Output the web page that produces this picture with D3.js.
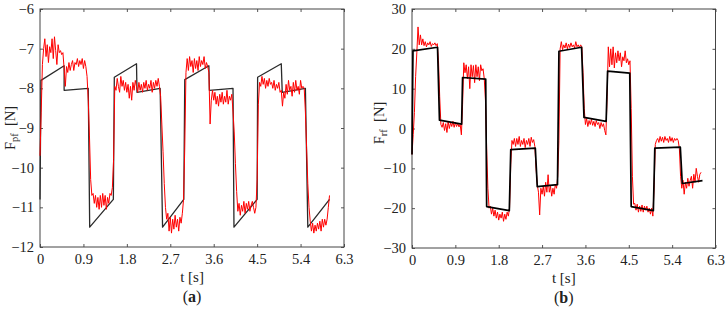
<!DOCTYPE html>
<html>
<head>
<meta charset="utf-8">
<script src="https://cdn.jsdelivr.net/npm/d3@7"></script>
<style>
  body { margin: 0; background: #fff; }
  svg { display: block; }
  text { font-family: "Liberation Serif", "Times New Roman", serif; fill: #222; }
</style>
</head>
<body>
<div id="chart"></div>
<script>
// sampling of the measured (red) signals
const DT = 0.025;

const xTicks = [0, 0.9, 1.8, 2.7, 3.6, 4.5, 5.4, 6.3];
const xTickLabels = ["0", "0.9", "1.8", "2.7", "3.6", "4.5", "5.4", "6.3"];
const yTicksA = [-12, -11, -10, -9, -8, -7, -6];
const yTicksB = [-30, -20, -10, 0, 10, 20, 30];

// panel (a): reference force F_pf [t, N]
const refA = [
  [0, -10.8], [0.02, -7.8], [0.5, -7.43], [0.5, -8.05], [1.0, -8.0], [1.03, -11.5],
  [1.52, -10.8], [1.54, -7.72], [2.0, -7.38], [2.01, -8.1], [2.49, -8.0], [2.54, -11.5],
  [2.98, -10.8], [3.0, -7.78], [3.5, -7.43], [3.51, -8.05], [4.0, -8.0], [4.02, -11.5],
  [4.5, -10.8], [4.51, -7.72], [5.0, -7.38], [5.02, -8.1], [5.5, -8.0], [5.55, -11.5],
  [6.0, -10.8]
];

// panel (a): measured F_pf, one value every DT
const measA = [
  -9.7, -8.6, -7.4, -7.0, -6.75, -7.2, -6.9, -7.35, -6.95, -7.1,
  -6.75, -7.25, -6.7, -7.05, -7.4, -6.9, -7.1, -7.05, -7.15, -7.1,
  -7.5, -7.95, -7.45, -7.6, -7.35, -7.55, -7.4, -7.3, -7.55, -7.35,
  -7.4, -7.25, -7.45, -7.3, -7.4, -7.25, -7.5, -7.3, -7.45, -7.7,
  -8.3, -9.2, -10.3, -10.7, -10.65, -10.9, -10.7, -11.0, -10.75, -11.05,
  -10.7, -11.0, -10.65, -10.95, -10.7, -11.05, -10.75, -10.9, -10.65, -10.7,
  -10.5, -9.8, -7.95, -8.05, -7.75, -7.95, -8.1, -7.7, -7.95, -7.8,
  -8.05, -7.85, -8.1, -7.9, -8.25, -7.95, -8.3, -7.85, -8.05, -7.8,
  -7.95, -8.1, -7.85, -8.05, -7.9, -8.1, -7.85, -8.0, -7.8, -8.05,
  -7.9, -8.0, -7.8, -8.1, -7.85, -8.0, -7.8, -7.95, -7.75, -7.95,
  -8.2, -8.9, -9.6, -10.4, -11.0, -11.3, -11.15, -11.6, -11.25, -11.65,
  -11.3, -11.55, -11.2, -11.5, -11.3, -11.6, -11.25, -11.4, -11.15, -10.8,
  -9.5, -7.6, -7.25, -7.55, -7.2, -7.45, -7.3, -7.6, -7.25, -7.5,
  -7.3, -7.55, -7.2, -7.45, -7.3, -7.4, -7.2, -7.5, -7.35, -7.45,
  -7.6, -8.9, -8.3, -8.05, -8.3, -8.1, -8.4, -8.2, -8.45, -8.15,
  -8.35, -8.1, -8.4, -8.2, -8.35, -8.05, -8.4, -8.2, -8.3, -8.15,
  -8.6, -9.1, -9.9, -10.6, -11.1, -10.9, -11.2, -10.95, -11.1, -10.85,
  -11.15, -10.9, -11.05, -10.85, -11.1, -10.95, -10.85, -11.0, -11.15, -11.0,
  -10.3, -8.4, -7.85, -7.95, -7.7, -7.9, -7.75, -8.0, -7.8, -7.95,
  -7.75, -7.9, -7.85, -8.0, -7.8, -8.05, -7.9, -8.0, -7.85, -8.1,
  -8.05, -8.45, -8.1, -8.25, -7.9, -8.15, -7.8, -8.05, -7.95, -8.2,
  -7.85, -8.1, -7.8, -8.05, -7.95, -8.15, -7.8, -8.0, -7.95, -8.0,
  -8.6, -9.5, -10.4, -11.0, -11.35, -11.6, -11.4, -11.65, -11.45, -11.6,
  -11.4, -11.55, -11.35, -11.6, -11.3, -11.5, -11.3, -11.45, -11.3, -11.0,
  -10.7
];

// panel (b): reference force F_rf [t, N]
const refB = [
  [0, -6.5], [0.02, 19.5], [0.53, 20.4], [0.57, 2.1], [1.03, 1.1], [1.05, 12.8],
  [1.53, 12.4], [1.55, -19.6], [2.02, -20.6], [2.05, -5.3], [2.56, -4.95], [2.6, -14.6],
  [3.02, -14.1], [3.05, 19.4], [3.52, 20.4], [3.57, 2.8], [4.03, 1.8], [4.06, 14.4],
  [4.52, 13.9], [4.55, -19.6], [5.01, -20.6], [5.04, -4.95], [5.57, -4.7], [5.61, -13.8],
  [6.03, -13.1]
];

// panel (b): measured F_rf, one value every DT
const measB = [
  -6.5, -1.5, 4, 13, 19, 25.5, 21, 23.5, 21, 22.5,
  20.8, 21.8, 20.5, 21.5, 21, 21.8, 20.6, 21.3, 21, 21.5,
  20.8, 21.3, 17, 8, 1, 0.3, 1.5, -0.5, 1.2, -1,
  1.8, 0, 1.5, 0.5, 1.8, 0.3, 1.5, 0.5, 1.3, 0.4,
  1.0, -1.6, 6, 16.5, 14, 16, 12.5, 15.5, 10, 16,
  13, 15.8, 11.5, 16, 13, 15.5, 12, 16, 14.5, 15,
  12.5, 7, -5, -15, -20, -19.5, -21.5, -20, -22, -20.5,
  -22.5, -21, -23, -21.5, -22.5, -21, -23.3, -21.5, -22.8, -21,
  -22, -20, -9, -3, -4, -2.5, -4.5, -2.5, -4, -2,
  -4.5, -3, -4, -2.5, -4.8, -3, -4, -2.5, -4.5, -2.2,
  -3.5, -2.8, -4.5, -10, -14, -16, -21.7, -15, -16.5, -14.5,
  -17, -13.5, -16, -11.6, -16, -14.5, -17, -15, -16.5, -14,
  -15, -12, -3, 20, 21.8, 19.8, 21, 20.2, 21.5, 20,
  21.2, 20.3, 21.5, 20.5, 21, 20.2, 21.8, 20.5, 21, 20.3,
  21, 20.5, 14, 5, 1, 2.5, 0.5, 2, 1, 2.3,
  0.8, 1.8, 0.5, 2, 1, 1.5, 0, 1.5, 0.5, 1.2,
  -0.5, -1.6, 8, 20.5, 15.5, 20, 16, 20.5, 15.2, 19,
  16.5, 19.5, 17, 19, 15.5, 18, 17, 19.5, 16.5, 17.5,
  16, 17, 5, -12, -19, -18.8, -20.5, -19, -21, -19.5,
  -20.8, -19.2, -21, -19.5, -20.5, -19.5, -21, -20, -21.5, -20,
  -22, -15, -4, -3, -2.5, -3.5, -2, -3.2, -2.2, -3.5,
  -2, -3, -2.5, -3.5, -2, -3.2, -2.3, -3.5, -2.5, -3,
  -2.5, -3, -5, -12, -15, -13, -16.5, -13.5, -15, -12.5,
  -14.5, -13, -12, -15, -11.5, -13.5, -10, -12, -13.5, -11.5,
  -11
];

const svg = d3.select("#chart").append("svg")
  .attr("width", 726)
  .attr("height", 311);

function drawPanel(cfg) {
  const g = svg.append("g")
    .attr("transform", "translate(" + cfg.left + "," + cfg.top + ")");

  const x = d3.scaleLinear().domain([0, 6.3]).range([0, cfg.width]);
  const y = d3.scaleLinear().domain(cfg.yDomain).range([cfg.height, 0]);

  const tickFmtX = (d, i) => xTickLabels[i];

  // axes with inward ticks
  g.append("g")
    .attr("class", "axis")
    .attr("transform", "translate(0," + cfg.height + ")")
    .call(d3.axisBottom(x).tickValues(xTicks).tickSize(-3).tickPadding(7).tickFormat(tickFmtX));
  g.append("g")
    .attr("class", "axis")
    .call(d3.axisTop(x).tickValues(xTicks).tickSize(-3).tickFormat(""));
  g.append("g")
    .attr("class", "axis")
    .call(d3.axisLeft(y).tickValues(cfg.yTicks).tickSize(-3).tickPadding(6).tickFormat(d3.format("d")));
  g.append("g")
    .attr("class", "axis")
    .attr("transform", "translate(" + cfg.width + ",0)")
    .call(d3.axisRight(y).tickValues(cfg.yTicks).tickSize(-3).tickFormat(""));

  g.selectAll(".axis .domain").remove();
  g.selectAll(".axis line").attr("stroke", "#555");
  g.selectAll(".axis text")
    .style("font-family", "'Liberation Serif', serif")
    .style("font-size", "14.5px")
    .attr("fill", "#222");

  g.append("rect")
    .attr("width", cfg.width)
    .attr("height", cfg.height)
    .attr("fill", "none")
    .attr("stroke", "#444")
    .attr("stroke-width", 1);

  const refLine = d3.line()
    .x(d => x(d[0]))
    .y(d => y(d[1]));
  const measLine = d3.line()
    .x((d, i) => x(i * DT))
    .y(d => y(d));

  const drawRef = () => g.append("path")
    .datum(cfg.ref)
    .attr("d", refLine)
    .attr("fill", "none")
    .attr("stroke", cfg.refColor)
    .attr("stroke-width", cfg.refWidth)
    .attr("stroke-linejoin", "round");
  const drawMeas = () => g.append("path")
    .datum(cfg.meas)
    .attr("d", measLine)
    .attr("fill", "none")
    .attr("stroke", "#ff0000")
    .attr("stroke-width", 1)
    .attr("stroke-linejoin", "round");

  if (cfg.refOnTop) { drawMeas(); drawRef(); }
  else { drawRef(); drawMeas(); }

  // y label, rotated
  const yl = g.append("text")
    .attr("transform", "translate(" + cfg.yLabelX + "," + cfg.yLabelY + ") rotate(-90)")
    .attr("text-anchor", "middle")
    .style("font-size", "14.5px");
  yl.append("tspan").text("F");
  yl.append("tspan").attr("dy", 3).style("font-size", "10.5px").text(cfg.sub);
  yl.append("tspan").attr("dy", -3).text("\u00a0\u00a0[N]");

  g.append("text")
    .attr("x", cfg.width / 2)
    .attr("y", cfg.height + 35)
    .attr("text-anchor", "middle")
    .style("font-size", "15px")
    .text("t [s]");

  const cap = g.append("text")
    .attr("x", cfg.width / 2)
    .attr("y", cfg.height + 55)
    .attr("text-anchor", "middle")
    .style("font-size", "16px");
  cap.append("tspan").text("(");
  cap.append("tspan").style("font-weight", "bold").text(cfg.tag);
  cap.append("tspan").text(")");
}

drawPanel({
  left: 40, top: 9, width: 304, height: 238,
  yDomain: [-12, -6], yTicks: yTicksA,
  ref: refA, meas: measA, refColor: "#2a2a2a", refWidth: 1.3, refOnTop: false,
  sub: "pf", tag: "a", yLabelX: -25, yLabelY: 119
});

drawPanel({
  left: 412, top: 9, width: 303.5, height: 239,
  yDomain: [-30, 30], yTicks: yTicksB,
  ref: refB, meas: measB, refColor: "#000", refWidth: 1.7, refOnTop: true,
  sub: "rf", tag: "b", yLabelX: -28, yLabelY: 114
});
</script>
</body>
</html>
